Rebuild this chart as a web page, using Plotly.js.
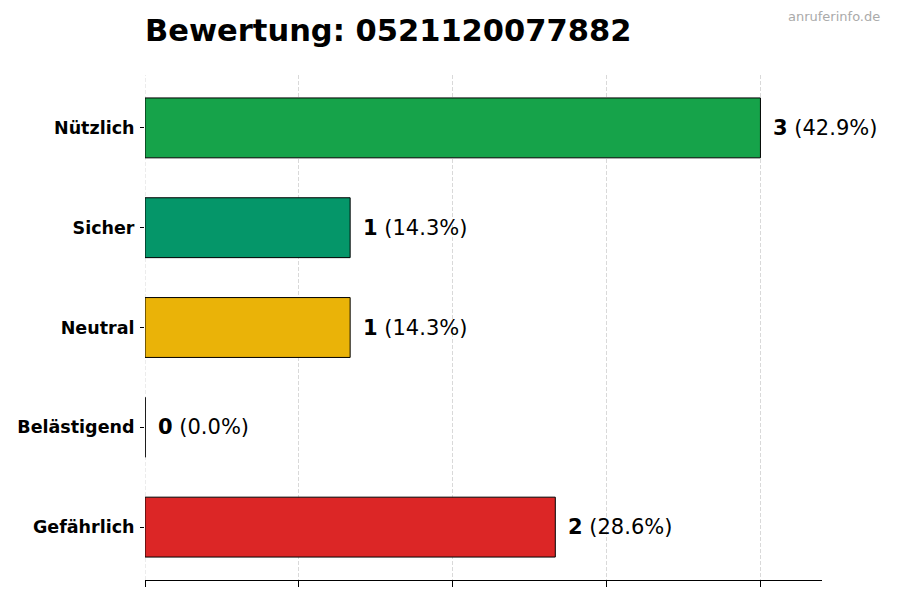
<!DOCTYPE html>
<html><head><meta charset="utf-8">
<script src="https://cdn.plot.ly/plotly-3.0.1.min.js"></script>
<style>body{margin:0;background:#fff}#chart{width:900px;height:600px}</style>
</head><body><div id="chart"></div>
<script>
const categories = ["Gefährlich", "Belästigend", "Neutral", "Sicher", "Nützlich"];
const counts = [2, 0, 1, 1, 3];
const percents = ["28.6%", "0.0%", "14.3%", "14.3%", "42.9%"];
const colors = ["#dc2626", "#f97316", "#eab308", "#059669", "#16a34a"];
const titleText = "Bewertung: 0521120077882";
const watermark = "anruferinfo.de";
const xTicks = [0, 0.75, 1.5, 2.25, 3];

const maxVal = Math.max(...counts);
const font = "DejaVu Sans, sans-serif";
const barWidth = 0.6;

const trace = {
  type: "bar", orientation: "h",
  y: categories, x: counts,
  width: barWidth,
  marker: { color: colors, line: { color: "#000", width: 1 } },
  hoverinfo: "skip"
};

const annotations = categories.map((c, i) => ({
  x: counts[i], y: c, xref: "x", yref: "y",
  text: "<b>" + counts[i] + "</b> (" + percents[i] + ")",
  showarrow: false, xanchor: "left", yanchor: "middle", xshift: 11,
  font: { family: font, size: 21, color: "#000" }
}));
annotations.push({
  x: 1.0886, y: 1.115, xref: "paper", yref: "paper",
  text: watermark, showarrow: false, xanchor: "right", yanchor: "middle",
  font: { family: font, size: 13, color: "#aaaaaa" }
});

const shapes = [{
  type: "line", layer: "below", xref: "x", yref: "paper",
  x0: xTicks[0], x1: xTicks[0], y0: 0, y1: 1,
  line: { color: "#d9d9d9", width: 1, dash: "4px,2px" }
}];
counts.forEach((v, i) => {
  if (v === 0) {
    shapes.push({
      type: "line", layer: "above", xref: "x", yref: "y",
      x0: v, x1: v, y0: i - barWidth / 2, y1: i + barWidth / 2,
      line: { color: "#000", width: 1 }
    });
  }
});

const layout = {
  width: 900, height: 600,
  margin: { l: 145, r: 78, t: 75, b: 20 },
  paper_bgcolor: "#fff", plot_bgcolor: "#fff",
  title: { text: "<b>" + titleText + "</b>", x: 0, xref: "paper", xanchor: "left",
           y: 0.95, yref: "container", yanchor: "middle",
           font: { family: font, size: 30.5, color: "#000" } },
  xaxis: {
    range: [0, maxVal * 1.1], tickvals: xTicks, ticktext: xTicks.map(() => ""),
    showgrid: true, gridcolor: "#d9d9d9", griddash: "4px,2px", gridwidth: 1,
    zeroline: false, showline: true, linecolor: "#000", linewidth: 1,
    ticks: "outside", ticklen: 6, tickcolor: "#000", fixedrange: true
  },
  yaxis: {
    range: [-0.53, 4.53], showgrid: false, zeroline: false, showline: false,
    ticks: "outside", ticklen: 4, tickcolor: "#000",
    tickfont: { family: font, size: 17.5, color: "#000", weight: "bold" },
    ticklabelstandoff: 2
  },
  shapes: shapes,
  annotations: annotations,
  showlegend: false, bargap: 0.4
};

Plotly.newPlot("chart", [trace], layout, { staticPlot: true, displayModeBar: false });
</script></body></html>
